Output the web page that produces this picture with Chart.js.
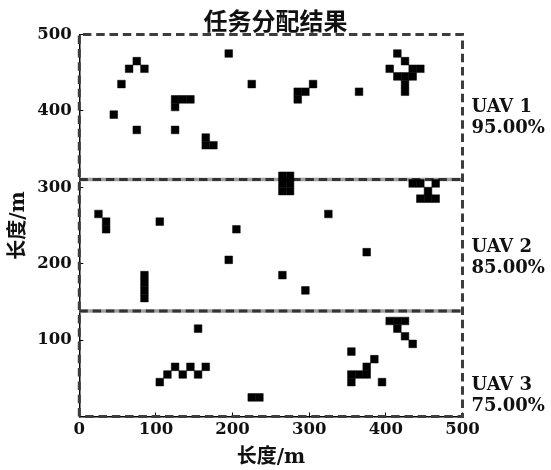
<!DOCTYPE html>
<html>
<head>
<meta charset="utf-8">
<script src="https://cdn.jsdelivr.net/npm/chart.js@4.4.1/dist/chart.umd.min.js"></script>
<style>
  html, body { margin: 0; padding: 0; background: #fff; }
  #wrap { width: 551px; height: 470px; }
</style>
</head>
<body>
<div id="wrap"><canvas id="chart"></canvas></div>
<script>
// lower-left corners of the 10 m grid cells assigned to each UAV
const uav1Cells = [
  [70, 460], [60, 450], [80, 450], [50, 430], [40, 390], [70, 370], [120, 370],
  [120, 410], [130, 410], [140, 410], [120, 400],
  [190, 470], [220, 430],
  [160, 360], [160, 350], [170, 350],
  [300, 430], [280, 420], [290, 420], [280, 410], [360, 420],
  [410, 470], [420, 460], [400, 450], [430, 450], [440, 450],
  [410, 440], [420, 440], [430, 440], [420, 430], [420, 420],
  [260, 310], [270, 310]
];
const uav2Cells = [
  [260, 300], [270, 300], [260, 290], [270, 290],
  [430, 300], [440, 300], [460, 300], [450, 290], [440, 280], [450, 280], [460, 280],
  [20, 260], [30, 250], [30, 240], [100, 250], [200, 240], [190, 200],
  [80, 180], [80, 170], [80, 160], [80, 150],
  [320, 260], [370, 210], [260, 180], [290, 160]
];
const uav3Cells = [
  [150, 110], [100, 40], [110, 50], [120, 60], [130, 50], [140, 60], [150, 50], [160, 60],
  [220, 20], [230, 20],
  [400, 120], [410, 120], [420, 120], [410, 110], [420, 100], [430, 90],
  [350, 80], [380, 70], [370, 60], [350, 50], [360, 50], [370, 50], [350, 40], [390, 40]
];
const dividerY = [310, 138];
const uavNames = ['UAV 1', 'UAV 2', 'UAV 3'];
const uavRates = ['95.00%', '85.00%', '75.00%'];
const labelY = [398, 215, 35];
const cellSize = 10;
const areaSize = 500;

const toPoints = cells => cells.map(([x, y]) => ({ x: x + cellSize / 2, y: y + cellSize / 2 }));

// square side equals one cell on the x scale
const cellRadius = ctx => {
  const s = ctx.chart.scales.x;
  return (s.getPixelForValue(cellSize) - s.getPixelForValue(0)) / 2 / Math.SQRT1_2;
};

const cellSet = (label, cells) => ({
  label: label,
  data: toPoints(cells),
  pointStyle: 'rect',
  pointRadius: cellRadius,
  backgroundColor: '#000',
  borderColor: '#000',
  borderWidth: 0.5,
  order: 0
});

const frame = [
  { x: 0, y: 0 }, { x: 0, y: areaSize }, { x: areaSize, y: areaSize },
  { x: areaSize, y: 0 }, { x: 0, y: 0 }
];

const lineSet = (data, color, width, dash, order) => ({
  type: 'line',
  data: data,
  borderColor: color,
  borderWidth: width,
  borderDash: dash,
  pointRadius: 0,
  fill: false,
  tension: 0,
  clip: false,
  order: order
});

const datasets = [
  cellSet('UAV 1', uav1Cells),
  cellSet('UAV 2', uav2Cells),
  cellSet('UAV 3', uav3Cells),
  lineSet(frame, '#3d3d3d', 3, [8.5, 4.8], 2)
];
dividerY.forEach(v => {
  const pts = [{ x: 0, y: v }, { x: areaSize, y: v }];
  datasets.push(lineSet(pts, '#a0a0a0', 3.5, [], 3));
  datasets.push(lineSet(pts, '#333', 3, [8.5, 4.8], 1));
});

const uavLabels = {
  id: 'uavLabels',
  afterDraw(chart) {
    const { ctx, chartArea, scales } = chart;
    ctx.save();
    ctx.fillStyle = '#111';
    ctx.font = 'bold 18px "DejaVu Serif"';
    ctx.textBaseline = 'alphabetic';
    uavNames.forEach((name, i) => {
      const py = scales.y.getPixelForValue(labelY[i]);
      ctx.fillText(name, chartArea.right + 9, py);
      ctx.fillText(uavRates[i], chartArea.right + 9, py + 21);
    });
    ctx.restore();
  }
};

const tickFont = { family: 'DejaVu Serif', size: 16.5, weight: 'bold' };
const titleFont = { family: "'DejaVu Serif', 'Noto Sans CJK SC'", size: 20, weight: 'bold', lineHeight: 1.2 };

new Chart(document.getElementById('chart'), {
  type: 'scatter',
  data: { datasets: datasets },
  options: {
    responsive: true,
    maintainAspectRatio: false,
    animation: false,
    events: [],
    layout: { padding: 0 },
    plugins: {
      legend: { display: false },
      tooltip: { enabled: false },
      title: {
        display: true,
        text: '任务分配结果',
        color: '#111',
        font: { family: 'Noto Sans CJK SC', size: 24, weight: 'bold', lineHeight: 1.1 },
        padding: { top: 8, bottom: 0 }
      }
    },
    scales: {
      x: {
        type: 'linear',
        min: 0,
        max: areaSize,
        ticks: { stepSize: 100, color: '#111', font: tickFont, padding: 7 },
        grid: { drawOnChartArea: false, tickLength: -4, color: '#000', lineWidth: 1 },
        border: { display: true, color: '#000', width: 1.5 },
        title: { display: true, text: '长度/m', color: '#111', font: titleFont, padding: 0 },
        afterFit: s => { s.height = 53.5; }
      },
      y: {
        type: 'linear',
        min: 0,
        max: areaSize,
        ticks: {
          stepSize: 100, color: '#111', font: tickFont, padding: 11.6,
          callback: v => (v === 0 ? '' : v)
        },
        grid: { drawOnChartArea: false, tickLength: -4, color: '#000', lineWidth: 1 },
        border: { display: true, color: '#000', width: 1.5 },
        title: { display: true, text: '长度/m', color: '#111', font: titleFont, padding: { top: 7 } },
        afterFit: s => { s.width = 79.3; }
      },
      y2: {
        type: 'linear',
        position: 'right',
        min: 0,
        max: areaSize,
        ticks: { display: false },
        grid: { display: false },
        border: { display: false },
        afterFit: s => { s.width = 88.5; }
      }
    }
  },
  plugins: [uavLabels]
});
</script>
</body>
</html>
